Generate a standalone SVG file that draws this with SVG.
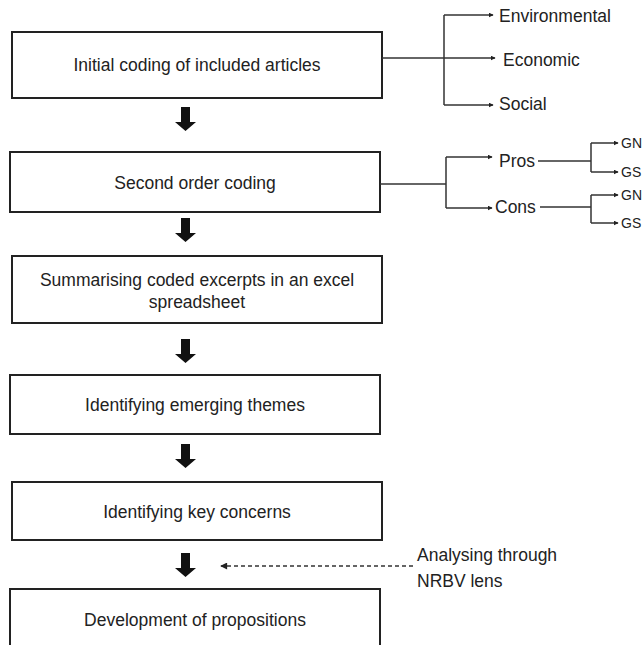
<svg xmlns="http://www.w3.org/2000/svg" width="644" height="645" viewBox="0 0 644 645">
<defs>
<style>
.box{fill:#fff;stroke:#222;stroke-width:2}
.t{font-family:"Liberation Sans",Arial,sans-serif;font-size:17.5px;fill:#222}
.s{font-size:14px}
.tc{text-anchor:middle;dominant-baseline:central}
.tl{dominant-baseline:central}
.ln{fill:none;stroke:#333;stroke-width:1.5}
.blk{fill:#111}
</style>
<marker id="ah" viewBox="0 0 8 8" refX="7" refY="4" markerWidth="5" markerHeight="5" orient="auto" markerUnits="userSpaceOnUse">
<path d="M0,0 L8,4 L0,8 Z" fill="#222"/>
</marker>
<marker id="ahd" viewBox="0 0 8 8" refX="7" refY="4" markerWidth="8" markerHeight="7" orient="auto" markerUnits="userSpaceOnUse">
<path d="M0,0 L8,4 L0,8 Z" fill="#222"/>
</marker>
<path id="bigarrow" d="M-4.5,0 H4.5 V15 H10.5 L0,24 L-10.5,15 H-4.5 Z"/>
</defs>
<rect width="644" height="645" fill="#fff"/>

<g id="n1"><rect class="box" x="12" y="32" width="370" height="66"/><text class="t tc" x="197" y="65">Initial coding of included articles</text></g>
<g id="n2"><rect class="box" x="10" y="152" width="370" height="60"/><text class="t tc" x="195" y="183">Second order coding</text></g>
<g id="n3"><rect class="box" x="12" y="256" width="370" height="67"/><text class="t tc" x="197" y="280">Summarising coded excerpts in an excel</text><text class="t tc" x="197" y="302">spreadsheet</text></g>
<g id="n4"><rect class="box" x="10" y="375" width="370" height="59"/><text class="t tc" x="195" y="405">Identifying emerging themes</text></g>
<g id="n5"><rect class="box" x="12" y="482" width="370" height="58"/><text class="t tc" x="197" y="512">Identifying key concerns</text></g>
<g id="n6"><rect class="box" x="10" y="589" width="370" height="70"/><text class="t tc" x="195" y="620">Development of propositions</text></g>

<g id="environmental"><text class="t tl" x="499" y="16">Environmental</text></g>
<g id="economic"><text class="t tl" x="503" y="60">Economic</text></g>
<g id="social"><text class="t tl" x="499" y="104">Social</text></g>
<g id="pros"><text class="t tl" x="499" y="161">Pros</text></g>
<g id="cons"><text class="t tl" x="495" y="207">Cons</text></g>
<g id="pros-gn"><text class="t tl s" x="621" y="143">GN</text></g>
<g id="pros-gs"><text class="t tl s" x="621" y="172">GS</text></g>
<g id="cons-gn"><text class="t tl s" x="621" y="195">GN</text></g>
<g id="cons-gs"><text class="t tl s" x="621" y="223">GS</text></g>
<g id="nrbv"><text class="t tl" x="417" y="555">Analysing through</text><text class="t tl" x="417" y="581">NRBV lens</text></g>

<g id="connectors">
<use href="#bigarrow" class="blk" x="185.5" y="107"/>
<use href="#bigarrow" class="blk" x="185.5" y="218"/>
<use href="#bigarrow" class="blk" x="185.5" y="339"/>
<use href="#bigarrow" class="blk" x="185.5" y="444"/>
<use href="#bigarrow" class="blk" x="185.5" y="553"/>

<path class="ln" d="M382,58 H444"/>
<path class="ln" d="M444,15 V105"/>
<path class="ln" marker-end="url(#ah)" d="M444,15 H493"/>
<path class="ln" marker-end="url(#ah)" d="M444,58 H495"/>
<path class="ln" marker-end="url(#ah)" d="M444,105 H493"/>

<path class="ln" d="M380,184 H446"/>
<path class="ln" d="M446,157 V208"/>
<path class="ln" marker-end="url(#ah)" d="M446,157 H492"/>
<path class="ln" marker-end="url(#ah)" d="M446,208 H492"/>

<path class="ln" d="M538,161 H591"/>
<path class="ln" d="M591,143 V172"/>
<path class="ln" marker-end="url(#ah)" d="M591,143 H618"/>
<path class="ln" marker-end="url(#ah)" d="M591,172 H618"/>

<path class="ln" d="M540,207 H591"/>
<path class="ln" d="M591,195 V223"/>
<path class="ln" marker-end="url(#ah)" d="M591,195 H618"/>
<path class="ln" marker-end="url(#ah)" d="M591,223 H618"/>

<path class="ln" stroke-dasharray="4,3" marker-end="url(#ahd)" d="M413,566 H221"/>
</g>
</svg>
